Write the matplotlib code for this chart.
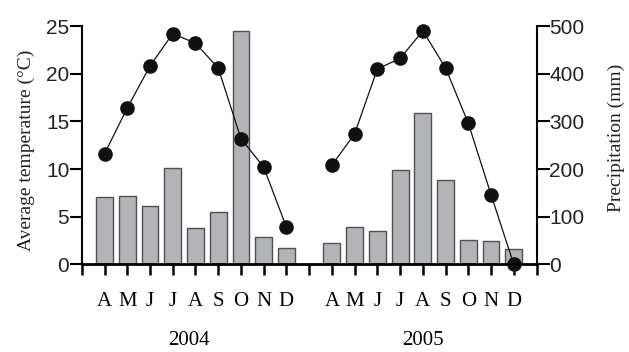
import matplotlib
matplotlib.use("Agg")
import matplotlib.pyplot as plt
import numpy as np

# datos
meses = ['A', 'M', 'J', 'J', 'A', 'S', 'O', 'N', 'D']
anios = ['2004', '2005']
temp_2004 = [11.6, 16.4, 20.8, 24.2, 23.2, 20.6, 13.2, 10.2, 3.9]
temp_2005 = [10.4, 13.7, 20.5, 21.6, 24.5, 20.6, 14.8, 7.3, 0.0]
prec_2004 = [142, 143, 123, 203, 77, 109, 490, 57, 34]
prec_2005 = [44, 79, 71, 198, 318, 177, 51, 50, 33]
temp_ticks = [0, 5, 10, 15, 20, 25]
prec_ticks = [0, 100, 200, 300, 400, 500]

# fuentes
sans = 'Liberation Sans'
serif = 'Liberation Serif'

# posiciones: 2004 en 1..9, 2005 en 11..19
x04 = np.arange(1, 10)
x05 = np.arange(11, 20)

fig = plt.figure(figsize=(6.29, 3.52), dpi=100)
ax = fig.add_axes([0.13, 0.249, 0.723, 0.677])
ax2 = ax.twinx()

gris = '#b3b4b8'
borde = '#505050'
ax2.bar(x04, prec_2004, width=0.74, color=gris, edgecolor=borde, linewidth=1.0)
ax2.bar(x05, prec_2005, width=0.74, color=gris, edgecolor=borde, linewidth=1.0)

ax.plot(x04, temp_2004, '-o', color='#111111', lw=0.9, ms=9.5, clip_on=False)
ax.plot(x05, temp_2005, '-o', color='#111111', lw=0.9, ms=9.5, clip_on=False)

ax.set_zorder(ax2.get_zorder() + 1)
ax.patch.set_visible(False)

ax.set_xlim(0, 20)
ax.set_ylim(0, 25)
ax2.set_ylim(0, 500)

for a in (ax, ax2):
    a.spines['top'].set_visible(False)
    a.spines['left'].set_linewidth(1.5)
    a.spines['right'].set_linewidth(1.5)
    a.spines['bottom'].set_linewidth(2.0)
ax.spines['right'].set_visible(False)
ax2.spines['left'].set_visible(False)
ax2.spines['bottom'].set_visible(False)

etiquetas = [''] * 21
for i, m in enumerate(meses):
    etiquetas[x04[i]] = m
    etiquetas[x05[i]] = m
ax.set_xticks(range(21))
ax.set_xticklabels(etiquetas, fontfamily=serif, fontsize=15)
ax.tick_params(axis='x', length=8, width=1.8, pad=12, direction='out')

ax.set_yticks(temp_ticks)
ax.set_yticklabels([str(t) for t in temp_ticks], fontfamily=sans, fontsize=15, color='#222222')
ax.tick_params(axis='y', length=9, width=1.5, pad=0)
ax2.set_yticks(prec_ticks)
ax2.set_yticklabels([str(p) for p in prec_ticks], fontfamily=sans, fontsize=15, color='#222222')
ax2.tick_params(axis='y', length=9, width=1.5, pad=0)

ax.set_ylabel('Average temperature (°C)', fontfamily=serif, fontsize=14, color='#222222')
ax.yaxis.set_label_coords(-0.103, 0.48)
ax2.set_ylabel('Precipitation (mm)', fontfamily=serif, fontsize=14, rotation=90, color='#222222')
ax2.yaxis.set_label_coords(1.157, 0.53)

# etiquetas de anio
trans = ax.get_xaxis_transform()
ax.text(x04.mean() - 0.3, -0.318, anios[0], transform=trans, ha='center', va='center',
        fontfamily=serif, fontsize=15)
ax.text(x05.mean(), -0.318, anios[1], transform=trans, ha='center', va='center',
        fontfamily=serif, fontsize=15)

fig.savefig('out.png', dpi=100)
